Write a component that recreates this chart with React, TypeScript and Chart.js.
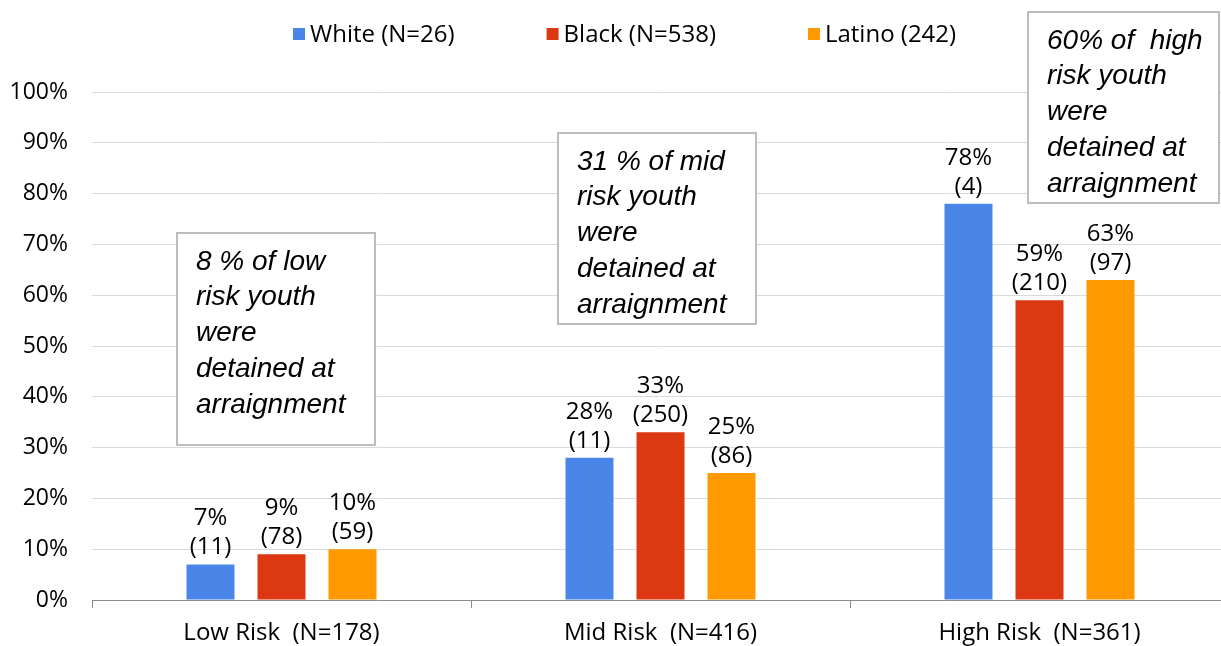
import React, { useEffect, useRef } from "react";
import { Chart, registerables } from "chart.js";

Chart.register(...registerables);

// ---- data ----
const categories = ["Low Risk  (N=178)", "Mid Risk  (N=416)", "High Risk  (N=361)"];
const seriesNames = ["White (N=26)", "Black (N=538)", "Latino (242)"];
const whitePct = [7, 28, 78];
const blackPct = [9, 33, 59];
const latinoPct = [10, 25, 63];
const whiteCount = [11, 11, 4];
const blackCount = [78, 250, 210];
const latinoCount = [59, 86, 97];
const seriesColors = ["#4a86e8", "#dc3912", "#ff9900"];
const yMin = 0;
const yMax = 100;
const yStep = 10;
const noteLow = ["8 % of low", "risk youth", "were", "detained at", "arraignment"];
const noteMid = ["31 % of mid", "risk youth", "were", "detained at", "arraignment"];
const noteHigh = ["60% of  high", "risk youth", "were", "detained at", "arraignment"];

const FONT = "'Open Sans', 'DejaVu Sans', sans-serif";
const NOTE_FONT = "italic 28px 'Liberation Sans', Arial, sans-serif";

const counts = [whiteCount, blackCount, latinoCount];

const legendPlugin = {
  id: "customLegend",
  afterDraw(chart: any) {
    const ctx = chart.ctx;
    ctx.save();
    ctx.font = `24px ${FONT}`;
    ctx.textBaseline = "middle";
    ctx.textAlign = "left";
    let x = 293;
    const y = 35;
    chart.data.datasets.forEach((ds: any) => {
      ctx.fillStyle = ds.backgroundColor;
      ctx.fillRect(x, y - 7, 12, 12);
      ctx.fillStyle = "#000";
      ctx.fillText(ds.label, x + 17, y);
      x += 17 + ctx.measureText(ds.label).width + 92;
    });
    ctx.restore();
  },
};

const valueLabelPlugin = {
  id: "valueLabels",
  afterDatasetsDraw(chart: any) {
    const ctx = chart.ctx;
    ctx.save();
    ctx.font = `24px ${FONT}`;
    ctx.fillStyle = "#000";
    ctx.textAlign = "center";
    ctx.textBaseline = "middle";
    chart.data.datasets.forEach((ds: any, di: number) => {
      const meta = chart.getDatasetMeta(di);
      meta.data.forEach((bar: any, i: number) => {
        const v = ds.data[i];
        ctx.fillText(`(${counts[di][i]})`, bar.x, bar.y - 17);
        ctx.fillText(`${v}%`, bar.x, bar.y - 46);
      });
    });
    ctx.restore();
  },
};

const notesPlugin = {
  id: "notes",
  afterDraw(chart: any) {
    const ctx = chart.ctx;
    const boxes = [
      { lines: noteLow, x: 177, y: 233, w: 198, h: 212 },
      { lines: noteMid, x: 558, y: 133, w: 198, h: 191 },
      { lines: noteHigh, x: 1028, y: 12, w: 191, h: 191 },
    ];
    ctx.save();
    boxes.forEach((b) => {
      ctx.fillStyle = "#ffffff";
      ctx.fillRect(b.x, b.y, b.w, b.h);
      ctx.strokeStyle = "#bdbdbd";
      ctx.lineWidth = 2;
      ctx.strokeRect(b.x, b.y, b.w, b.h);
      ctx.fillStyle = "#000";
      ctx.font = NOTE_FONT;
      ctx.textAlign = "left";
      ctx.textBaseline = "middle";
      b.lines.forEach((t, i) => {
        ctx.fillText(t, b.x + 19, b.y + 29 + i * 35.7);
      });
    });
    ctx.restore();
  },
};

export default function App() {
  const ref = useRef<HTMLCanvasElement | null>(null);

  useEffect(() => {
    if (!ref.current) return;
    const data = [whitePct, blackPct, latinoPct];
    const chart = new Chart(ref.current, {
      type: "bar",
      data: {
        labels: categories,
        datasets: seriesNames.map((name, i) => ({
          label: name,
          data: data[i],
          backgroundColor: seriesColors[i],
          borderWidth: 0,
          categoryPercentage: 0.562,
          barPercentage: 0.676,
        })),
      },
      options: {
        animation: false,
        responsive: false,
        layout: { padding: { top: 92, right: 0, left: 0, bottom: 0 } },
        plugins: {
          legend: { display: false },
          tooltip: { enabled: false },
        },
        scales: {
          x: {
            offset: true,
            afterFit: (scale: any) => {
              scale.height = 46;
            },
            grid: {
              display: true,
              drawOnChartArea: false,
              drawTicks: true,
              tickLength: 8,
              color: "#8c8c8c",
              offset: true,
            },
            border: { display: true, color: "#8c8c8c", width: 1 },
            ticks: {
              color: "#000",
              font: { family: FONT, size: 24, lineHeight: 1 },
              padding: 13,
              maxRotation: 0,
              autoSkip: false,
            },
          },
          y: {
            min: yMin,
            max: yMax,
            afterFit: (scale: any) => {
              scale.width = 92;
            },
            grid: { color: "#d9d9d9", drawTicks: false, lineWidth: 1 },
            border: { display: false },
            ticks: {
              stepSize: yStep,
              color: "#000",
              padding: 24,
              font: { family: FONT, size: 23 },
              callback: (v: any) => `${v}%`,
            },
          },
        },
      },
      plugins: [valueLabelPlugin, notesPlugin, legendPlugin],
    });
    return () => chart.destroy();
  }, []);

  return (
    <div
      style={{
        position: "fixed",
        left: 0,
        top: 0,
        width: 1221,
        height: 646,
        overflow: "hidden",
        background: "#fff",
      }}
    >
      <canvas ref={ref} width={1229} height={646} style={{ display: "block" }} />
    </div>
  );
}
